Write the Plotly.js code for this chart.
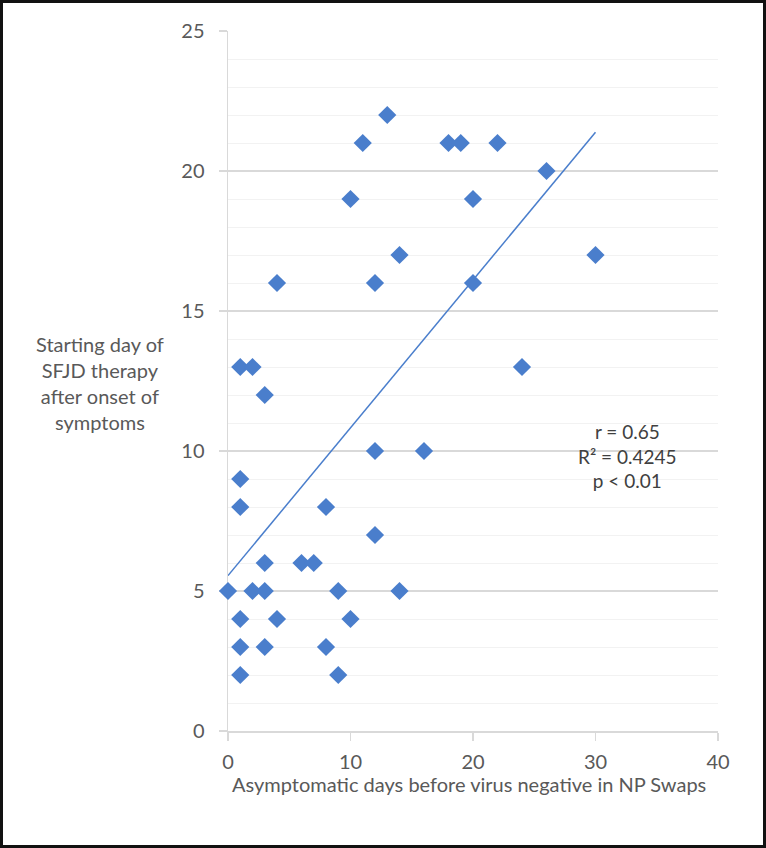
<!DOCTYPE html>
<html>
<head>
<meta charset="utf-8">
<script src="https://cdn.plot.ly/plotly-3.0.1.min.js"></script>
<style>
html,body{margin:0;padding:0;background:#fff;}
#wrap{position:relative;width:766px;height:848px;}
#chart{width:766px;height:848px;}
#frame{position:absolute;left:0;top:0;width:766px;height:848px;box-sizing:border-box;border:3px solid #111;pointer-events:none;}
</style>
</head>
<body>
<div id="wrap"><div id="chart"></div><div id="frame"></div></div>
<script>
// Asymptomatic days before virus negative in NP swabs
const asymDays = [0,1,1,1,1,1,1,2,2,3,3,3,3,4,4,6,7,8,8,9,9,10,10,11,12,12,12,13,14,14,16,18,19,20,20,22,24,26,30];
// Starting day of SFJD therapy after onset of symptoms
const startDay = [5,13,9,8,4,3,2,13,5,12,6,5,3,16,4,6,6,8,3,5,2,19,4,21,16,10,7,22,17,5,10,21,21,19,16,21,13,20,17];
const statsLines = ["r = 0.65", "R² = 0.4245", "p < 0.01"];
const xTitle = "Asymptomatic days before virus negative in NP Swaps";
const yTitleLines = ["Starting day of", "SFJD therapy", "after onset of", "symptoms"];

// least-squares trend line over the data range
const n = asymDays.length;
const mx = asymDays.reduce((a,b)=>a+b,0)/n;
const my = startDay.reduce((a,b)=>a+b,0)/n;
let sxy=0, sxx=0;
for (let i=0;i<n;i++){ sxy += (asymDays[i]-mx)*(startDay[i]-my); sxx += (asymDays[i]-mx)**2; }
const slope = sxy/sxx, icpt = my - slope*mx;
const xMin = Math.min(...asymDays), xMax = Math.max(...asymDays);
const trendX = [xMin, xMax];
const trendY = trendX.map(x => icpt + slope*x);

const blue = '#4A7ECC';
const font = 'Lato, "Open Sans", sans-serif';

const data = [
  {x: trendX, y: trendY, type:'scatter', mode:'lines', line:{color:blue, width:1.5}, hoverinfo:'skip', showlegend:false},
  {x: asymDays, y: startDay, type:'scatter', mode:'markers', cliponaxis:false,
   marker:{symbol:'diamond', size:14, color:blue, line:{width:0}}, showlegend:false}
];

const layout = {
  width:766, height:848,
  margin:{l:228, r:48, t:31, b:117},
  paper_bgcolor:'#fff', plot_bgcolor:'#fff',
  font:{family:font, color:'#595959', size:18},
  xaxis:{range:[0,40], dtick:10, tick0:0, showgrid:false, zeroline:false, layer:'below traces',
    showline:true, linecolor:'#D9D9D9', linewidth:1.5,
    ticks:'outside', ticklen:8, tickcolor:'#D9D9D9', tickwidth:1.5,
    ticklabelstandoff:4,
    tickfont:{size:20, color:'#595959'}},
  yaxis:{range:[0,25], dtick:5, tick0:0, showgrid:true, gridcolor:'#D9D9D9', gridwidth:1.5,
    zeroline:false, showline:true, linecolor:'#D9D9D9', linewidth:1.5, layer:'below traces',
    ticks:'outside', ticklen:8, tickcolor:'#D9D9D9', tickwidth:1.5,
    ticklabelstandoff:10,
    tickfont:{size:20, color:'#595959'},
    minor:{dtick:1, showgrid:true, gridcolor:'#F2F2F2', gridwidth:1}},
  annotations:[
    {xref:'paper', yref:'paper', x:0.492, y:-0.0757, xanchor:'center', yanchor:'middle', showarrow:false,
     text: xTitle, font:{size:20, color:'#595959'}},
    {xref:'paper', yref:'paper', x:-0.261, y:0.497, xanchor:'center', yanchor:'middle', showarrow:false,
     align:'center', text: yTitleLines.join('<br>'), font:{size:20, color:'#595959'}},
    {xref:'x', yref:'y', x:32.65, y:9.82, xanchor:'center', yanchor:'middle', showarrow:false,
     align:'center', text: statsLines.join('<br>'), font:{size:19, color:'#404040'}}
  ]
};

Plotly.newPlot('chart', data, layout, {displayModeBar:false, staticPlot:true});
</script>
</body>
</html>
